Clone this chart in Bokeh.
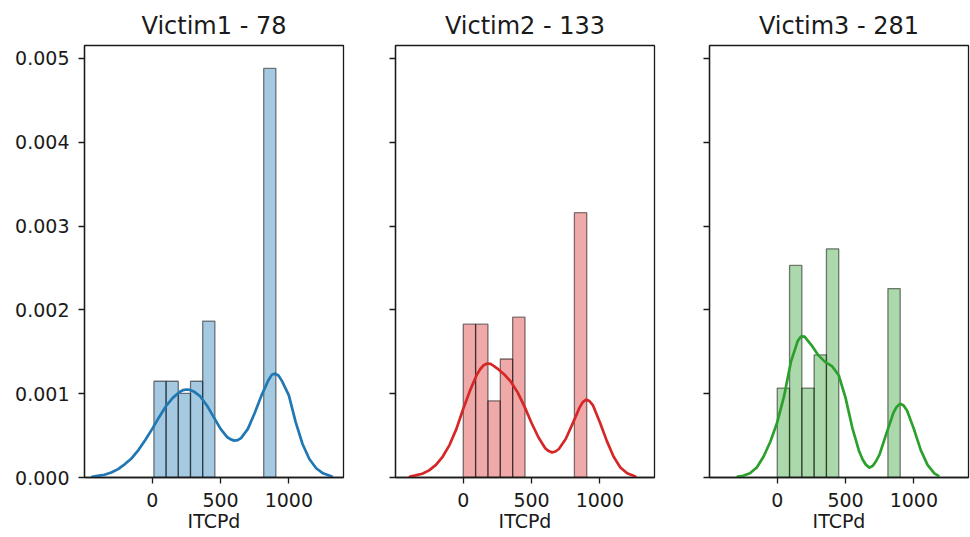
import numpy as np
from bokeh.plotting import figure
from bokeh.layouts import row
from bokeh.models import Range1d, FixedTicker, NumeralTickFormatter
from bokeh.embed import file_html
from bokeh.resources import INLINE

# ---- data -------------------------------------------------------------
titles = ["Victim1 - 78", "Victim2 - 133", "Victim3 - 281"]
colors = ["#1f77b4", "#d62728", "#2ca02c"]

# ITCPd histograms: 10 equal-width bins between each victim's min and max
bin_lo = [12, 0, 0]
bin_hi = [905, 904, 900]
counts_v1 = [8, 8, 7, 8, 13, 0, 0, 0, 0, 34]
counts_v2 = [22, 22, 11, 17, 23, 0, 0, 0, 0, 38]
counts_v3 = [27, 64, 27, 37, 69, 0, 0, 0, 0, 57]

# kernel density estimates (density in units of 1e-3)
kde_x_v1 = [-440, -400, -350, -300, -250, -200, -150, -100, -50, 0, 50, 100,
            150, 200, 225, 250, 275, 300, 350, 400, 450, 500, 550, 575, 600,
            625, 650, 700, 750, 800, 850, 875, 900, 925, 950, 1000, 1050,
            1100, 1150, 1200, 1250, 1315]
kde_y_v1 = [0.008, 0.02, 0.033, 0.06, 0.10, 0.16, 0.23, 0.33, 0.45, 0.58,
            0.72, 0.85, 0.95, 1.02, 1.042, 1.05, 1.045, 1.03, 0.97, 0.86,
            0.72, 0.58, 0.48, 0.455, 0.44, 0.445, 0.47, 0.58, 0.77, 0.98,
            1.16, 1.225, 1.24, 1.215, 1.15, 0.98, 0.66, 0.40, 0.22, 0.11,
            0.05, 0.012]

kde_x_v2 = [-390, -350, -300, -250, -200, -150, -100, -50, 0, 50, 100, 125,
            150, 175, 200, 225, 250, 300, 350, 400, 450, 500, 550, 600, 625,
            650, 675, 700, 750, 800, 850, 875, 900, 925, 950, 1000, 1050,
            1100, 1150, 1200, 1260]
kde_y_v2 = [0.012, 0.025, 0.045, 0.085, 0.15, 0.25, 0.39, 0.58, 0.82, 1.04,
            1.23, 1.295, 1.34, 1.36, 1.355, 1.33, 1.30, 1.23, 1.14, 1.01,
            0.84, 0.65, 0.48, 0.35, 0.315, 0.30, 0.31, 0.34, 0.46, 0.64,
            0.83, 0.90, 0.93, 0.91, 0.86, 0.66, 0.44, 0.25, 0.12, 0.05, 0.012]

kde_x_v3 = [-290, -250, -200, -150, -100, -50, 0, 50, 100, 150, 175, 200,
            250, 300, 350, 400, 450, 500, 550, 600, 625, 650, 675, 700, 725,
            750, 800, 850, 875, 900, 925, 950, 1000, 1050, 1100, 1150, 1180]
kde_y_v3 = [0.012, 0.02, 0.05, 0.12, 0.25, 0.43, 0.66, 0.97, 1.38, 1.63,
            1.685, 1.68, 1.58, 1.46, 1.38, 1.33, 1.22, 0.95, 0.59, 0.31,
            0.215, 0.15, 0.118, 0.14, 0.20, 0.28, 0.53, 0.77, 0.845, 0.88,
            0.86, 0.80, 0.58, 0.33, 0.15, 0.05, 0.02]

x_ticks = [0, 500, 1000]
y_ticks = [0.000, 0.001, 0.002, 0.003, 0.004, 0.005]

# ---- styling ----------------------------------------------------------
FONT = "DejaVu Sans"
INK = "#1a1a1a"
X_RANGE = (-496, 1400)
Y_RANGE = (0, 0.005155)


def make_panel(idx, counts, lo, hi, kx, ky, show_labels, b_left, b_right):
    p = figure(
        title=titles[idx],
        frame_width=259, frame_height=432,
        min_border_left=b_left, min_border_right=b_right,
        min_border_top=45, min_border_bottom=60,
        x_range=Range1d(*X_RANGE), y_range=Range1d(*Y_RANGE),
        output_backend="svg", toolbar_location=None,
        background_fill_color="white", border_fill_color="white",
    )
    color = colors[idx]

    # normalised histogram
    counts = np.asarray(counts, dtype=float)
    edges = np.linspace(lo, hi, len(counts) + 1)
    density = counts / (counts.sum() * (edges[1] - edges[0]))
    keep = counts > 0
    p.quad(left=edges[:-1][keep], right=edges[1:][keep],
           bottom=0, top=density[keep],
           fill_color=color, fill_alpha=0.4,
           line_color="black", line_alpha=0.5, line_width=1.3)

    # density curve
    p.line(kx, np.asarray(ky) * 1e-3, line_color=color, line_width=2.7,
           line_join="round", line_cap="round")

    # frame & axes
    p.xgrid.visible = False
    p.ygrid.visible = False
    p.outline_line_color = INK
    p.outline_line_width = 1.3
    p.outline_line_alpha = 1.0

    for ax in (p.xaxis, p.yaxis):
        ax.axis_line_color = INK
        ax.axis_line_width = 1.3
        ax.major_tick_line_color = INK
        ax.major_tick_line_width = 1.3
        ax.major_tick_out = 6
        ax.major_tick_in = 0
        ax.minor_tick_line_color = None
        ax.major_label_text_font = FONT
        ax.major_label_text_font_size = "19px"
        ax.major_label_text_color = INK

    p.xaxis.ticker = FixedTicker(ticks=x_ticks)
    p.xaxis.major_label_standoff = 9
    p.xaxis.axis_label = "ITCPd"
    p.xaxis.axis_label_text_font = FONT
    p.xaxis.axis_label_text_font_size = "19px"
    p.xaxis.axis_label_text_font_style = "normal"
    p.xaxis.axis_label_text_color = INK
    p.xaxis.axis_label_standoff = 0

    p.yaxis.ticker = FixedTicker(ticks=y_ticks)
    p.yaxis.formatter = NumeralTickFormatter(format="0.000")
    p.yaxis.major_label_standoff = 9
    if not show_labels:
        # shared y scale: tick marks only
        p.yaxis.major_label_overrides = {t: "" for t in y_ticks}
        p.yaxis.major_label_standoff = 0

    p.title.text_font = FONT
    p.title.text_font_size = "24px"
    p.title.text_font_style = "normal"
    p.title.text_color = INK
    p.title.align = "center"
    p.title.standoff = 11
    return p


p1 = make_panel(0, counts_v1, bin_lo[0], bin_hi[0], kde_x_v1, kde_y_v1, True, 84, 26)
p2 = make_panel(1, counts_v2, bin_lo[1], bin_hi[1], kde_x_v2, kde_y_v2, False, 26, 28)
p3 = make_panel(2, counts_v3, bin_lo[2], bin_hi[2], kde_x_v3, kde_y_v3, False, 27, 2)

layout = row(p1, p2, p3, spacing=0)

open("out.html", "w").write(file_html(layout, INLINE, title="ITCPd distributions"))
